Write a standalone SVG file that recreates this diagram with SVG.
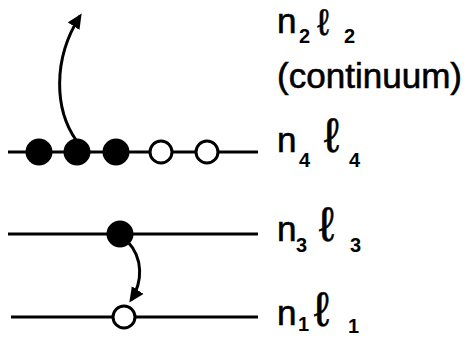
<svg xmlns="http://www.w3.org/2000/svg" width="464" height="337" viewBox="0 0 464 337">
<style>
.lvl{stroke:#000;stroke-width:3.2;fill:none}
.e{stroke:#000;stroke-width:3}
.f{fill:#000}
.o{fill:#fff}
.arr{stroke:#000;stroke-width:3;fill:none}
.t{font-family:"Liberation Sans","DejaVu Sans",sans-serif;font-size:35px;fill:#000;stroke:#000;stroke-width:0.6}
.l{font-family:"Liberation Sans","DejaVu Sans",sans-serif;font-size:48px;fill:#000;stroke:#000;stroke-width:0.5}
.s{font-family:"Liberation Sans",sans-serif;font-size:20px;font-weight:bold;fill:#000}
</style>
<defs>
<marker id="ah" markerWidth="18" markerHeight="18" refX="12" refY="7" orient="auto" markerUnits="userSpaceOnUse">
<path d="M0,0 L15,7 L0,14 Z" fill="#000"/>
</marker>
</defs>
<g id="levels">
<line class="lvl" x1="8" y1="152" x2="258" y2="152"/>
<line class="lvl" x1="8" y1="234" x2="258" y2="234"/>
<line class="lvl" x1="11" y1="317" x2="258" y2="317"/>
</g>
<g id="connectors">
<path class="arr" d="M76,140 C55,110 52,60 80,16" marker-end="url(#ah)"/>
<path class="arr" d="M128,242 C143,258 143,282 131,300" marker-end="url(#ah)"/>
</g>
<g id="n4l4-electrons">
<circle class="f e" cx="39" cy="152" r="12"/>
<circle class="f e" cx="77" cy="152" r="12"/>
<circle class="f e" cx="116" cy="152" r="12"/>
<circle class="o e" cx="161" cy="152" r="11"/>
<circle class="o e" cx="207" cy="152" r="11"/>
</g>
<g id="n3l3-electron">
<circle class="f e" cx="120" cy="234" r="12"/>
</g>
<g id="n1l1-hole">
<circle class="o e" cx="124" cy="317" r="11"/>
</g>
<g id="label-n2l2">
<text class="t" x="277" y="33">n</text>
<text class="s" x="299" y="43">2</text>
<text class="l" x="317" y="35" style="font-size:37px">ℓ</text>
<text class="s" x="344" y="43">2</text>
</g>
<g id="label-continuum">
<text class="t" x="277" y="88" textLength="185" lengthAdjust="spacingAndGlyphs">(continuum)</text>
</g>
<g id="label-n4l4">
<text class="t" x="277" y="152">n</text>
<text class="s" x="299" y="167">4</text>
<text class="l" x="324" y="152">ℓ</text>
<text class="s" x="349" y="167">4</text>
</g>
<g id="label-n3l3">
<text class="t" x="277" y="241">n</text>
<text class="s" x="296" y="252">3</text>
<text class="l" x="319" y="241">ℓ</text>
<text class="s" x="350" y="252">3</text>
</g>
<g id="label-n1l1">
<text class="t" x="277" y="325">n</text>
<text class="s" x="298" y="331">1</text>
<text class="l" x="314" y="326">ℓ</text>
<text class="s" x="348" y="333">1</text>
</g>
</svg>
